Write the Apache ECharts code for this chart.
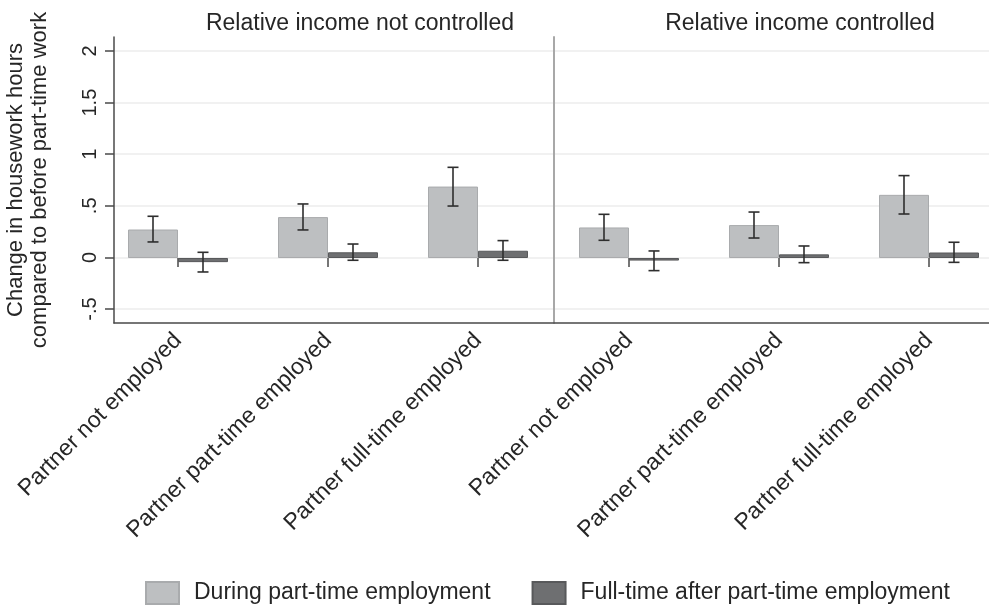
<!DOCTYPE html>
<html>
<head>
<meta charset="utf-8">
<script src="https://cdn.jsdelivr.net/npm/echarts@6/dist/echarts.min.js"></script>
<style>
  html, body { margin: 0; padding: 0; background: #ffffff; }
  #chart { width: 989px; height: 610px; }
</style>
</head>
<body>
<div id="chart"></div>
<script>
// Categories on each panel
const categories = ['Partner not employed', 'Partner part-time employed', 'Partner full-time employed'];
const panelTitles = ['Relative income not controlled', 'Relative income controlled'];
const seriesNames = ['During part-time employment', 'Full-time after part-time employment'];
const yTitleLines = ['Change in housework hours', 'compared to before part-time work'];
const yTickValues = [-0.5, 0, 0.5, 1, 1.5, 2];
const yTickLabels = ['-.5', '0', '.5', '1', '1.5', '2'];

// Relative income not controlled
const duringNC = [0.275, 0.395, 0.69];
const duringNCLow = [0.155, 0.271, 0.502];
const duringNCHigh = [0.403, 0.522, 0.876];
const fullNC = [-0.04, 0.055, 0.07];
const fullNCLow = [-0.135, -0.022, -0.022];
const fullNCHigh = [0.055, 0.135, 0.168];

// Relative income controlled
const duringC = [0.295, 0.318, 0.61];
const duringCLow = [0.171, 0.193, 0.425];
const duringCHigh = [0.422, 0.444, 0.796];
const fullC = [-0.025, 0.035, 0.053];
const fullCLow = [-0.122, -0.045, -0.042];
const fullCHigh = [0.068, 0.116, 0.152];

const FONT = '"Liberation Sans", Arial, sans-serif';
const TEXT = '#262626';
const AXIS = '#4a4a4a';
const LIGHT = '#bdbfc1';
const LIGHT_EDGE = '#a9abad';
const DARK = '#6e6f71';
const DARK_EDGE = '#58595b';
const YMIN = -0.628, YMAX = 2.135;

function errorData(low, high) {
  return low.map((l, i) => [i, l, high[i]]);
}

// Whisker for a bar; side = -1 for the left bar of a pair, +1 for the right one
function whisker(side) {
  return function (params, api) {
    const band = api.size([1, 0])[0];
    const dx = side * band / 6;
    const lo = api.coord([api.value(0), api.value(1)]);
    const hi = api.coord([api.value(0), api.value(2)]);
    const x = lo[0] + dx;
    const cap = 5.5;
    const style = { stroke: '#2e2e2e', lineWidth: 1.6 };
    return {
      type: 'group',
      children: [
        { type: 'line', shape: { x1: x, y1: lo[1], x2: x, y2: hi[1] }, style },
        { type: 'line', shape: { x1: x - cap, y1: hi[1], x2: x + cap, y2: hi[1] }, style },
        { type: 'line', shape: { x1: x - cap, y1: lo[1], x2: x + cap, y2: lo[1] }, style }
      ]
    };
  };
}

function barSeries(name, data, axisIdx, color, edge) {
  return {
    name, type: 'bar', data,
    xAxisIndex: axisIdx, yAxisIndex: axisIdx,
    barWidth: '33.333%', barGap: '0%',
    itemStyle: { color, borderColor: edge, borderWidth: 1 },
    emphasis: { disabled: true },
    z: 3
  };
}

function errSeries(low, high, axisIdx, side) {
  return {
    type: 'custom', renderItem: whisker(side), data: errorData(low, high),
    xAxisIndex: axisIdx, yAxisIndex: axisIdx, z: 4, silent: true
  };
}

const hiddenValueAxis = (gridIndex, extra) => Object.assign({
  type: 'value', gridIndex, show: true,
  axisLine: { show: false }, axisTick: { show: false },
  axisLabel: { show: false }, splitLine: { show: false }
}, extra || {});

const catAxis = (gridIndex) => ({
  type: 'category', gridIndex, data: categories,
  axisLine: { show: false },
  axisTick: { show: true, alignWithLabel: true, length: 9, lineStyle: { color: AXIS, width: 1.5 } },
  axisLabel: { rotate: 45, fontSize: 23, color: TEXT, fontFamily: FONT, margin: 14 }
});

const tickAxis = (gridIndex, labels) => ({
  type: 'value', gridIndex, min: -0.5, max: 2, interval: 0.5,
  axisLine: { show: false },
  axisTick: { show: labels, length: 9, lineStyle: { color: AXIS, width: 1.5 } },
  axisLabel: {
    show: labels, rotate: 90, fontSize: 20, color: TEXT, fontFamily: FONT, margin: 14,
    formatter: v => yTickLabels[yTickValues.indexOf(Math.round(v * 2) / 2)]
  },
  splitLine: { show: true, lineStyle: { color: '#ececec', width: 1.5 } }
});

const gridBox = (left, top, width, height) => ({ left, top, width, height, outerBoundsMode: 'none', containLabel: false });

const chart = echarts.init(document.getElementById('chart'), null, { renderer: 'canvas' });

chart.setOption({
  animation: false,
  backgroundColor: '#ffffff',
  grid: [
    gridBox(103, 37, 450, 286),   // 0: left panel bars
    gridBox(554, 37, 450, 286),   // 1: right panel bars
    gridBox(114, 51, 439, 258),   // 2: left panel gridlines and ticks
    gridBox(554, 51, 450, 258),   // 3: right panel gridlines
    gridBox(114, 37, 880, 286)    // 4: outer frame
  ],
  xAxis: [
    catAxis(0),
    catAxis(1),
    hiddenValueAxis(2, { min: 0, max: 1 }),
    hiddenValueAxis(3, { min: 0, max: 1 }),
    hiddenValueAxis(4, { min: 0, max: 1, position: 'bottom', axisLine: { show: true, onZero: false, lineStyle: { color: AXIS, width: 1.5 } } })
  ],
  yAxis: [
    hiddenValueAxis(0, { min: YMIN, max: YMAX }),
    hiddenValueAxis(1, { min: YMIN, max: YMAX, axisLine: { show: true, lineStyle: { color: '#a8a8a8', width: 2 } } }),
    tickAxis(2, true),
    tickAxis(3, false),
    hiddenValueAxis(4, { min: YMIN, max: YMAX, axisLine: { show: true, lineStyle: { color: AXIS, width: 1.5 } } })
  ],
  legend: {
    data: seriesNames,
    left: 145, top: 581, padding: 0,
    itemWidth: 33, itemHeight: 22, itemGap: 41,
    icon: 'rect',
    selectedMode: false,
    textStyle: { fontSize: 23, color: TEXT, fontFamily: FONT, padding: [0, 0, 0, 10] }
  },
  graphic: [
    { type: 'text', x: 360, y: 23.5, style: { text: panelTitles[0], font: '23px ' + FONT, fill: TEXT, textAlign: 'center', textVerticalAlign: 'middle' } },
    { type: 'text', x: 800, y: 23.5, style: { text: panelTitles[1], font: '23px ' + FONT, fill: TEXT, textAlign: 'center', textVerticalAlign: 'middle' } },
    { type: 'text', x: 16, y: 180, rotation: Math.PI / 2, style: { text: yTitleLines[0], font: '22px ' + FONT, fill: TEXT, textAlign: 'center', textVerticalAlign: 'middle' } },
    { type: 'text', x: 40, y: 180, rotation: Math.PI / 2, style: { text: yTitleLines[1], font: '22px ' + FONT, fill: TEXT, textAlign: 'center', textVerticalAlign: 'middle' } }
  ],
  series: [
    barSeries(seriesNames[0], duringNC, 0, LIGHT, LIGHT_EDGE),
    barSeries(seriesNames[1], fullNC, 0, DARK, DARK_EDGE),
    errSeries(duringNCLow, duringNCHigh, 0, -1),
    errSeries(fullNCLow, fullNCHigh, 0, 1),
    barSeries(seriesNames[0], duringC, 1, LIGHT, LIGHT_EDGE),
    barSeries(seriesNames[1], fullC, 1, DARK, DARK_EDGE),
    errSeries(duringCLow, duringCHigh, 1, -1),
    errSeries(fullCLow, fullCHigh, 1, 1)
  ]
});
</script>
</body>
</html>
